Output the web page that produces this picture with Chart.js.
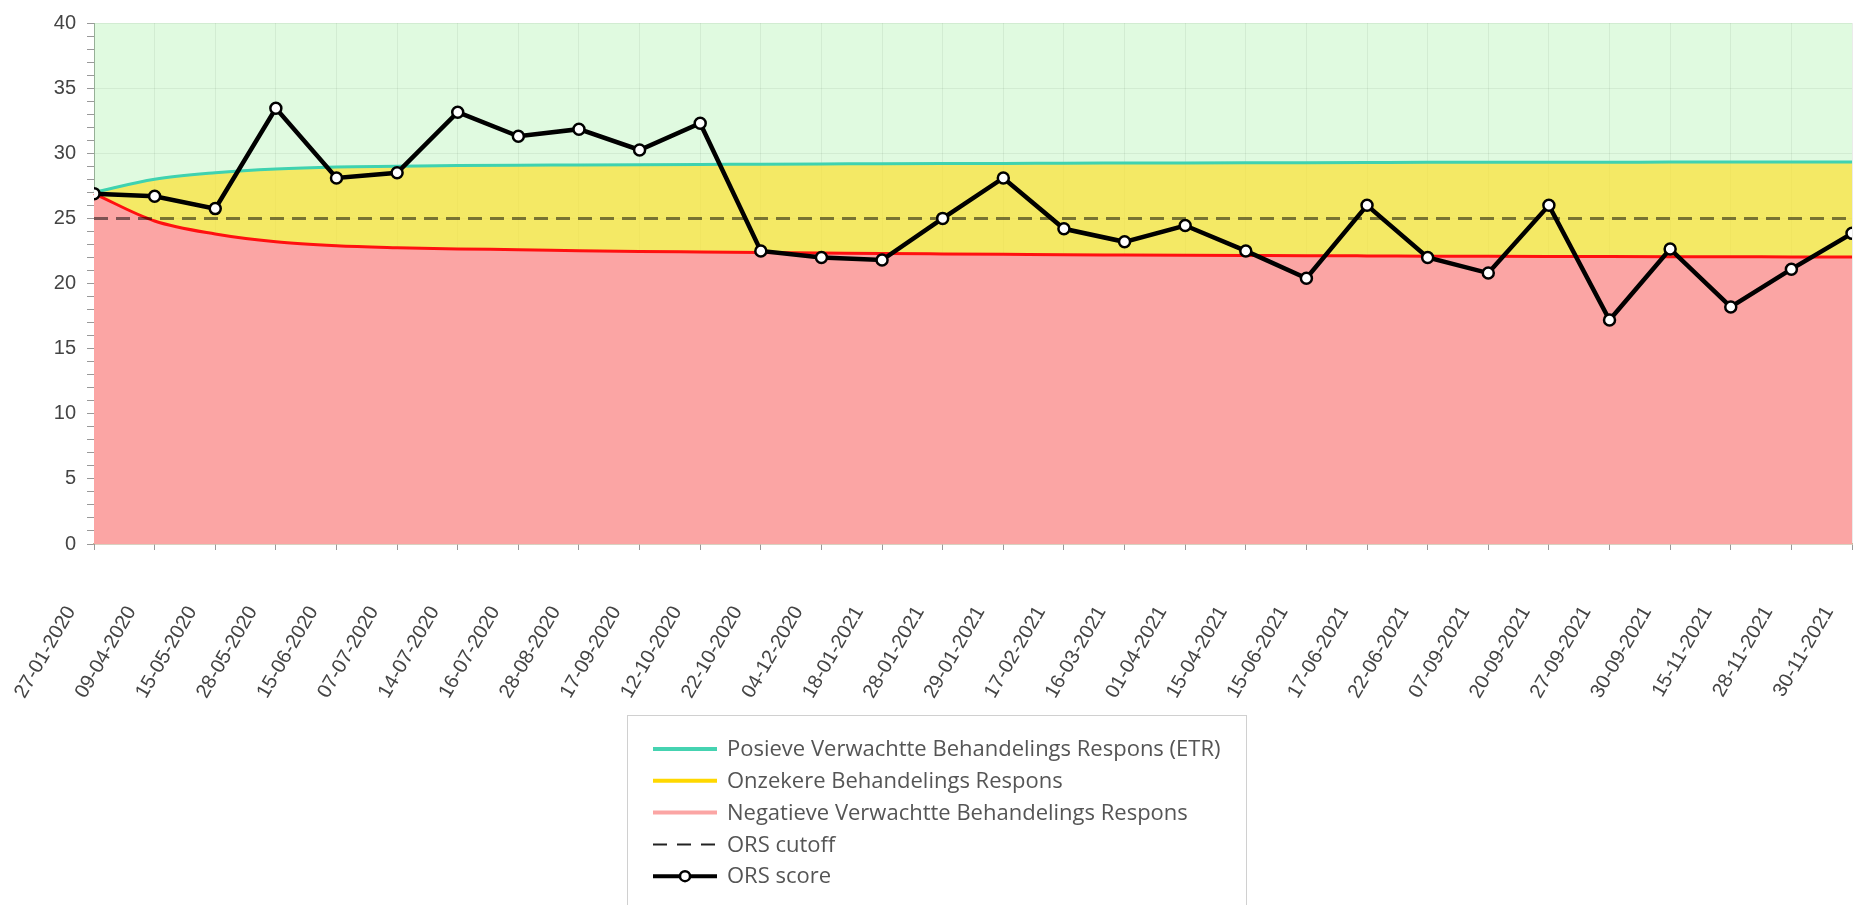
<!DOCTYPE html>
<html>
<head>
<meta charset="utf-8">
<title>ORS score</title>
<script src="https://cdn.jsdelivr.net/npm/chart.js@4.4.1/dist/chart.umd.min.js"></script>
<style>
  html, body { margin: 0; padding: 0; background: #fff; }
  #wrap { position: relative; width: 1860px; height: 905px; }
</style>
</head>
<body>
<div id="wrap"><canvas id="orsChart"></canvas></div>
<script>
// session dates (x categories)
const dates = ['27-01-2020', '09-04-2020', '15-05-2020', '28-05-2020', '15-06-2020', '07-07-2020',
  '14-07-2020', '16-07-2020', '28-08-2020', '17-09-2020', '12-10-2020', '22-10-2020', '04-12-2020',
  '18-01-2021', '28-01-2021', '29-01-2021', '17-02-2021', '16-03-2021', '01-04-2021', '15-04-2021',
  '15-06-2021', '17-06-2021', '22-06-2021', '07-09-2021', '20-09-2021', '27-09-2021', '30-09-2021',
  '15-11-2021', '28-11-2021', '30-11-2021'];

// upper boundary of the expected treatment response (teal line)
const etrUpper = [27.0, 28.0, 28.5, 28.8, 28.95, 29.0, 29.05, 29.08, 29.1, 29.12, 29.14, 29.16, 29.18,
  29.2, 29.21, 29.22, 29.24, 29.25, 29.26, 29.27, 29.28, 29.29, 29.3, 29.3, 29.31, 29.31, 29.32,
  29.32, 29.33, 29.33];

// lower boundary (red line)
const etrLower = [26.9, 24.8, 23.8, 23.2, 22.9, 22.75, 22.65, 22.6, 22.52, 22.46, 22.42, 22.38, 22.34,
  22.3, 22.27, 22.24, 22.21, 22.19, 22.17, 22.15, 22.13, 22.12, 22.1, 22.09, 22.08, 22.07, 22.06,
  22.05, 22.04, 22.03];

const orsCutoff = [25, 25, 25, 25, 25, 25, 25, 25, 25, 25, 25, 25, 25, 25, 25, 25, 25, 25, 25, 25,
  25, 25, 25, 25, 25, 25, 25, 25, 25, 25];

const orsScore = [26.9, 26.7, 25.75, 33.45, 28.1, 28.5, 33.15, 31.3, 31.85, 30.25, 32.3, 22.5, 22.0,
  21.8, 25.0, 28.1, 24.2, 23.2, 24.45, 22.5, 20.4, 26.0, 22.0, 20.8, 26.0, 17.2, 22.65, 18.2, 21.1,
  23.85];

const yLabels = [0, 5, 10, 15, 20, 25, 30, 35, 40];

// legend drawn as a framed list under the chart
const boxedLegend = {
  id: 'boxedLegend',
  afterDraw(chart, args, opts) {
    const ctx = chart.ctx;
    ctx.save();
    ctx.strokeStyle = '#d0d0d0';
    ctx.lineWidth = 1;
    ctx.strokeRect(opts.left + 0.5, opts.top + 0.5, opts.width, opts.height);
    ctx.font = opts.font;
    ctx.textBaseline = 'middle';
    chart.data.datasets.forEach((ds, i) => {
      const y = opts.top + opts.firstRow + i * opts.rowHeight;
      const x0 = opts.left + opts.sampleLeft;
      const x1 = x0 + opts.sampleWidth;
      ctx.strokeStyle = ds.legendColor;
      ctx.lineWidth = ds.legendWidth;
      ctx.setLineDash(ds.legendDash || []);
      ctx.beginPath();
      ctx.moveTo(x0, y);
      ctx.lineTo(x1, y);
      ctx.stroke();
      ctx.setLineDash([]);
      if (ds.legendPoint) {
        ctx.beginPath();
        ctx.arc((x0 + x1) / 2, y, 5, 0, Math.PI * 2);
        ctx.fillStyle = '#fff';
        ctx.fill();
        ctx.lineWidth = 2.5;
        ctx.stroke();
      }
      ctx.fillStyle = '#555';
      ctx.fillText(ds.label, x1 + 10, y + 1);
    });
    ctx.restore();
  }
};

const ctx = document.getElementById('orsChart').getContext('2d');
new Chart(ctx, {
  type: 'line',
  data: {
    labels: dates,
    datasets: [
      {
        label: 'Posieve Verwachtte Behandelings Respons (ETR)',
        data: etrUpper,
        borderColor: '#3fd2b0',
        borderWidth: 3,
        backgroundColor: 'rgba(144, 238, 144, 0.28)',
        fill: 'end',
        pointRadius: 0,
        cubicInterpolationMode: 'monotone',
        order: 2,
        legendColor: '#45d3b1', legendWidth: 4
      },
      {
        label: 'Onzekere Behandelings Respons',
        data: etrUpper,
        borderWidth: 0,
        borderColor: 'rgba(0,0,0,0)',
        backgroundColor: 'rgba(241, 227, 62, 0.8)',
        fill: 2,
        pointRadius: 0,
        cubicInterpolationMode: 'monotone',
        order: 4,
        legendColor: '#ffd800', legendWidth: 4
      },
      {
        label: 'Negatieve Verwachtte Behandelings Respons',
        data: etrLower,
        borderColor: '#ff1010',
        borderWidth: 3,
        backgroundColor: '#fba5a4',
        fill: 'origin',
        pointRadius: 0,
        cubicInterpolationMode: 'monotone',
        order: 3,
        legendColor: '#fba5a4', legendWidth: 4
      },
      {
        label: 'ORS cutoff',
        data: orsCutoff,
        borderColor: 'rgba(0, 0, 0, 0.5)',
        borderWidth: 3,
        borderDash: [14, 8],
        fill: false,
        pointRadius: 0,
        order: 1,
        legendColor: '#222', legendWidth: 2, legendDash: [14, 10]
      },
      {
        label: 'ORS score',
        data: orsScore,
        borderColor: '#000',
        borderWidth: 4.5,
        pointRadius: 5.5,
        pointBorderWidth: 2.5,
        pointBackgroundColor: '#fff',
        pointBorderColor: '#000',
        fill: false,
        tension: 0,
        clip: 0,
        order: 0,
        legendColor: '#000', legendWidth: 4, legendPoint: true
      }
    ]
  },
  options: {
    responsive: true,
    maintainAspectRatio: false,
    animation: false,
    layout: { padding: { top: 19, right: 3, bottom: 201, left: 0 } },
    plugins: {
      legend: { display: false },
      tooltip: { enabled: false },
      boxedLegend: {
        left: 627, top: 715, width: 619, height: 200,
        firstRow: 34, rowHeight: 31.8, sampleLeft: 26, sampleWidth: 64,
        font: '22px "Open Sans"'
      }
    },
    scales: {
      x: {
        offset: false,
        grid: { color: 'rgba(0, 0, 0, 0.08)', tickColor: '#999', tickLength: 6 },
        border: { color: '#c8b898', width: 1.5 },
        ticks: {
          autoSkip: false,
          minRotation: 60,
          maxRotation: 60,
          padding: 52,
          labelOffset: -23,
          color: '#444',
          font: { family: '"Liberation Sans", Arial, sans-serif', size: 20 }
        },
        afterFit(scale) {
          scale.height = 160;
          scale.paddingLeft = 0;
          scale.paddingRight = 0;
        }
      },
      y: {
        min: 0,
        max: 40,
        grid: {
          color: (c) => yLabels.includes(c.tick.value) ? 'rgba(0, 0, 0, 0.08)' : 'rgba(0, 0, 0, 0)',
          tickColor: '#999',
          tickLength: 7
        },
        border: { color: '#999', width: 1 },
        ticks: {
          stepSize: 1,
          maxTicksLimit: 41,
          autoSkip: false,
          padding: 11,
          color: '#444',
          font: { family: '"Liberation Sans", Arial, sans-serif', size: 20 },
          callback: (v) => yLabels.includes(v) ? v : ''
        },
        afterFit(scale) {
          scale.width = 94;
        }
      }
    }
  },
  plugins: [boxedLegend]
});
</script>
</body>
</html>
